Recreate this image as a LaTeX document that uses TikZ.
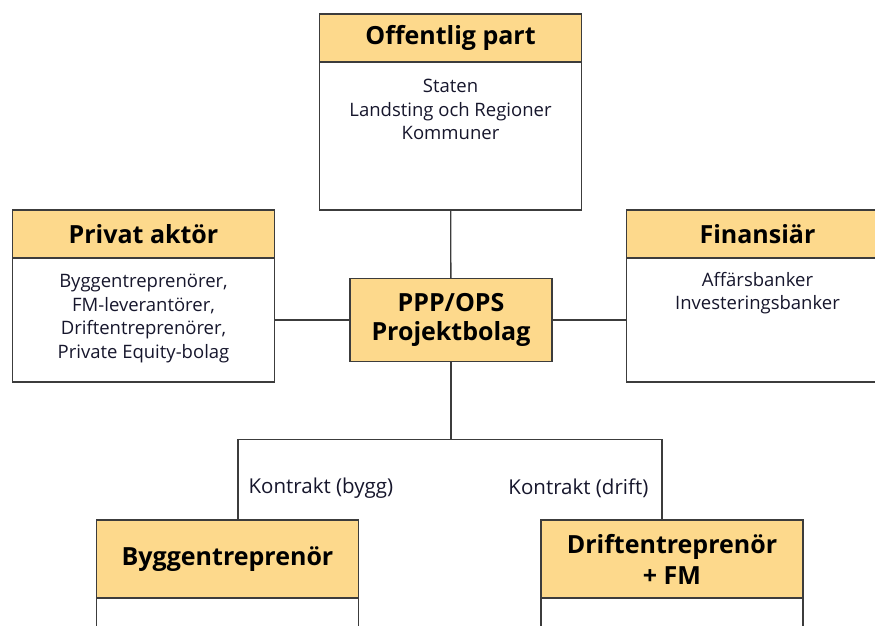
\documentclass[tikz,border=0pt]{standalone}
\usepackage{fontspec}
\setmainfont{Open Sans}
\usetikzlibrary{positioning}

\definecolor{headfill}{HTML}{FDD98C}
\definecolor{framegray}{HTML}{3C3C3C}
\definecolor{inkblue}{HTML}{16162C}

\begin{document}
\begin{tikzpicture}[x=1pt, y=-1pt,
	head/.style={draw=framegray, fill=headfill, line width=1.3pt, outer sep=0pt, inner sep=0pt,
		minimum width=262pt, minimum height=48pt, align=center,
		font=\fontsize{25}{31}\selectfont\bfseries},
	body/.style={draw=framegray, line width=1.3pt, outer sep=0pt, inner sep=0pt, minimum width=262pt},
	list/.style={align=center, inner sep=0pt, text=inkblue, font=\fontsize{18.5}{23.5}\selectfont},
	tag/.style={inner sep=0pt, text=inkblue, font=\fontsize{20.5}{22}\selectfont},
	link/.style={draw=framegray, line width=1.3pt}]
\useasboundingbox (0,0) rectangle (875,626);
\clip (0,0) rectangle (875,626);

% top
\node[head] (offhead) at (450.5,38) {Offentlig part};
\node[body, minimum height=148pt, below=0pt of offhead] (offbody) {};
\node[list, below=17pt of offhead.south] (offtext) {Staten\\Landsting och Regioner\\Kommuner};

% left and right
\node[head] (privhead) at (143.5,234) {Privat aktör};
\node[body, minimum height=124pt, below=0pt of privhead] (privbody) {};
\node[list, below=16pt of privhead.south] (privtext) {Byggentreprenörer,\\FM-leverantörer,\\Driftentreprenörer,\\Private Equity-bolag};

\node[head] (finhead) at (757.5,234) {Finansiär};
\node[body, minimum height=124pt, below=0pt of finhead] (finbody) {};
\node[list, below=14pt of finhead.south] (fintext) {Affärsbanker\\Investeringsbanker};

% centre
\node[head, minimum width=202pt, minimum height=83pt, font=\fontsize{25}{29}\selectfont\bfseries]
	(ppp) at (451,320) {PPP/OPS\\Projektbolag};

% bottom
\node[head, minimum height=78pt] (bygghead) at (227.5,559) {Byggentreprenör};
\node[body, minimum height=60pt, below=0pt of bygghead] (byggbody) {};
\node[head, minimum height=78pt] (drifthead) at (672,559) {Driftentreprenör\\+ FM};
\node[body, minimum height=60pt, below=0pt of drifthead] (driftbody) {};

\coordinate[below=78pt of ppp.south] (fork);

\draw[link] (offbody) -- (ppp);
\draw[link] (privbody) -- (ppp);
\draw[link] (finbody) -- (ppp);
\draw[link] (ppp) -- (fork);
\draw[link] (fork) -| node[tag, pos=0.8, right=10pt] (byggtag) {Kontrakt (bygg)} ([xshift=10.5pt]bygghead.north);
\draw[link] (fork) -| node[tag, pos=0.8, left=13pt] (drifttag) {Kontrakt (drift)} ([xshift=-10pt]drifthead.north);
\end{tikzpicture}
\end{document}
